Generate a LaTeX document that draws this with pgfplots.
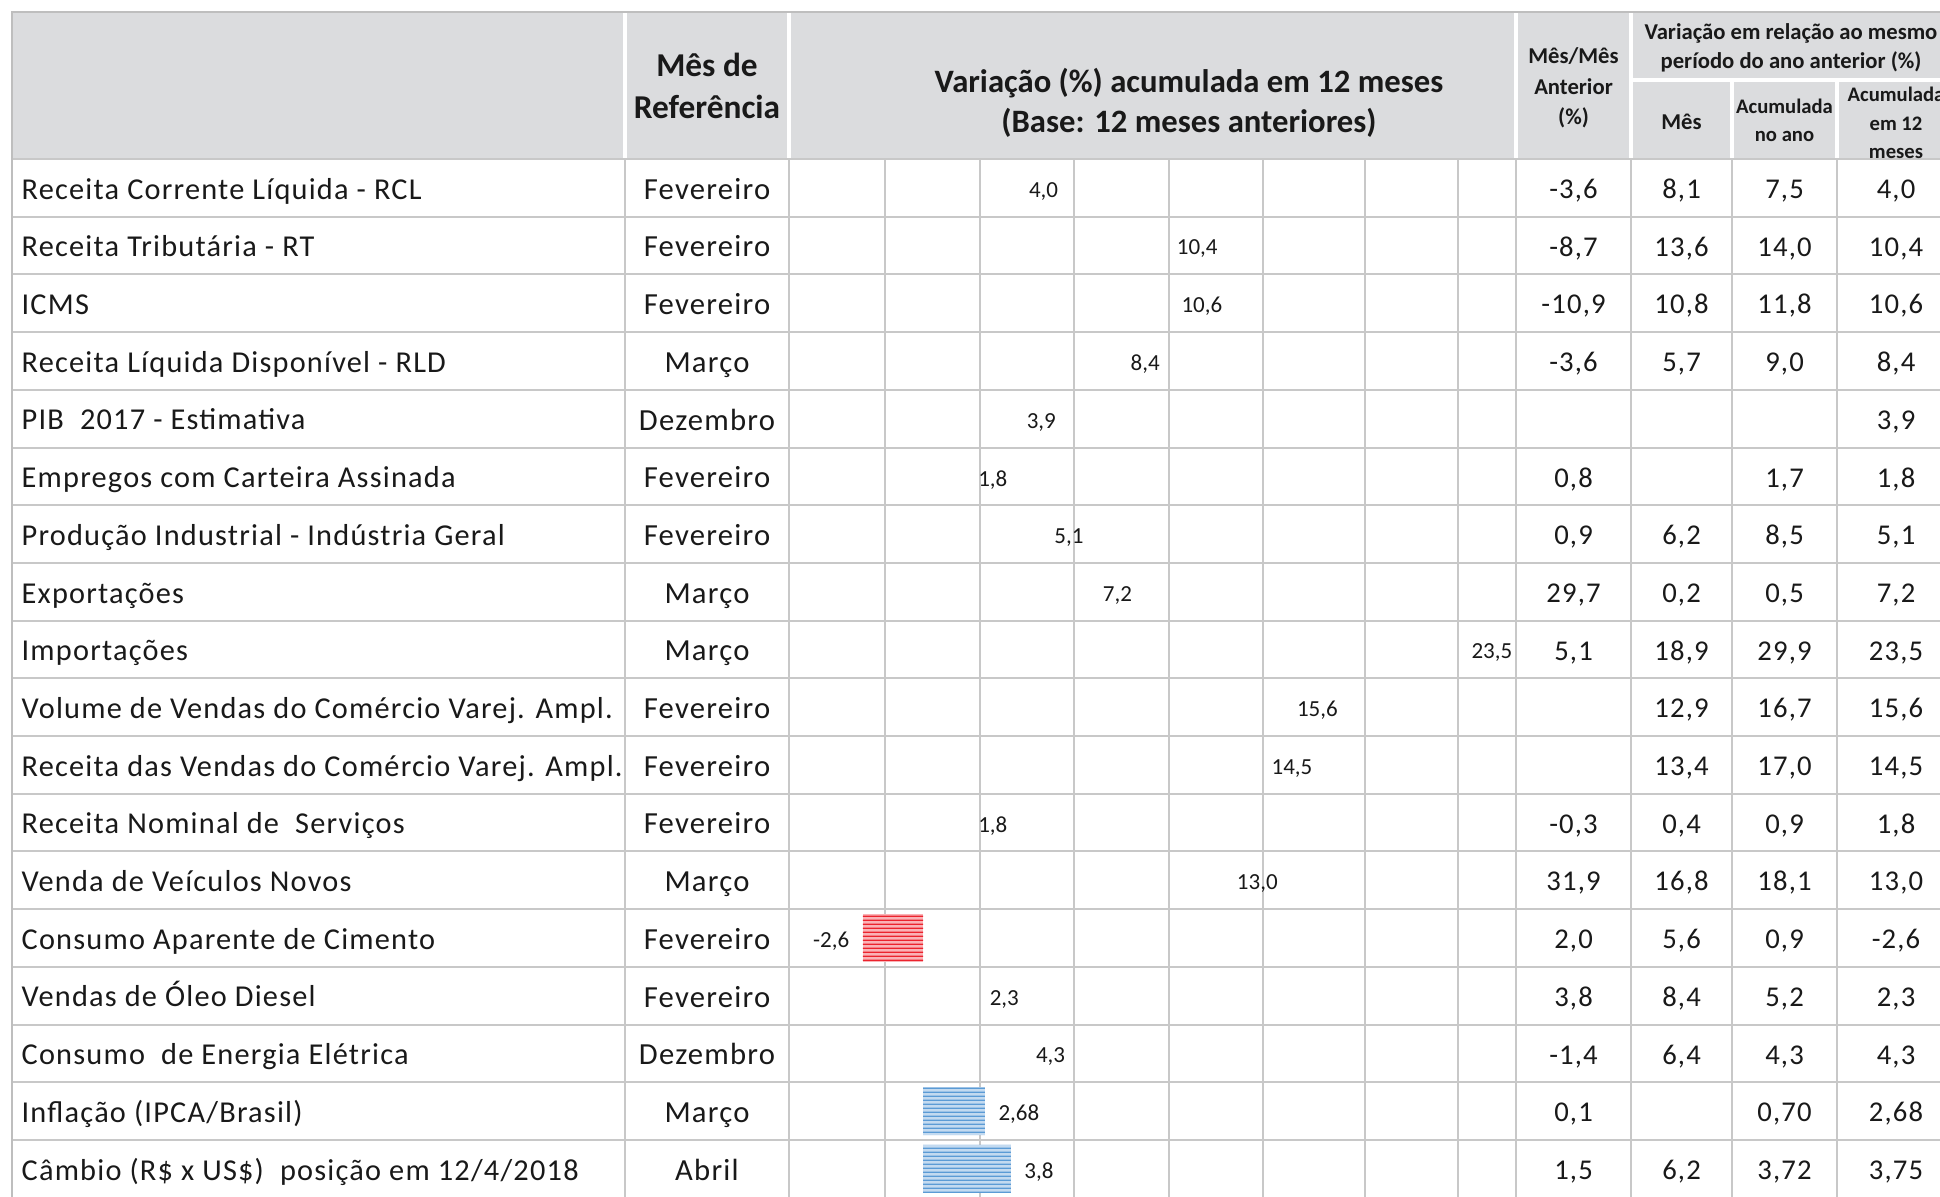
\documentclass[border=0pt]{standalone}
\usepackage{fontspec}
\setmainfont{Carlito}
\usepackage{pgfplots}
\pgfplotsset{compat=1.18}
\usepackage{pgfplotstable}
\usetikzlibrary{patterns}

\definecolor{hdr}{RGB}{219,220,222}
\definecolor{gridc}{RGB}{200,200,200}
\definecolor{bordc}{RGB}{190,190,190}
\definecolor{txt}{RGB}{25,25,25}
\definecolor{redline}{RGB}{235,35,45}
\definecolor{redbg}{RGB}{250,178,182}
\definecolor{blueline}{RGB}{91,155,213}
\definecolor{bluebg}{RGB}{195,218,240}

\pgfdeclarepatternformonly{hstripes}{\pgfpointorigin}{\pgfpoint{700pt}{1.2pt}}{\pgfpoint{700pt}{1.2pt}}{%
  \pgfpathrectangle{\pgfpoint{0pt}{0pt}}{\pgfpoint{700pt}{0.5pt}}\pgfusepath{fill}}

\newfontfamily\bodyfont[LetterSpace=4]{Carlito}
\newfontfamily\chartfont{Carlito}

% chart data: row index, value, label
\pgfplotstableread{
row val lab
0 4.0 4,0
1 10.4 10,4
2 10.6 10,6
3 8.4 8,4
4 3.9 3,9
5 1.8 1,8
6 5.1 5,1
7 7.2 7,2
9 15.6 15,6
10 14.5 14,5
11 1.8 1,8
12 13.0 13,0
14 2.3 2,3
15 4.3 4,3
}\plaindata
\pgfplotstableread{
row val lab
8 23.5 23,5
}\edgedata
\pgfplotstableread{
row val lab
13 -2.6 -2,6
}\negdata
\pgfplotstableread{
row val lab
16 2.68 2,68
17 3.8 3,8
}\bluedata

% text helper: [opts]{x}{y visual centre}{size}{text}
\newcommand\T[5][]{%
  \pgfmathsetmacro\by{#3+1.073*#4}%
  \node[anchor=base,inner sep=0pt,text=txt,#1] at (#2,\by) {\fontsize{#4}{#4}\selectfont #5};%
}
\newcommand\R[7]{%
  \pgfmathsetmacro\yc{159+57.7*(#1+0.5)+1.5}%
  \T[anchor=base west]{21}{\yc}{9.1}{\bodyfont #2}%
  \T{707}{\yc}{9.2}{\bodyfont #3}%
  \T{1573.5}{\yc}{8.6}{\bodyfont #4}%
  \T{1681.5}{\yc}{8.6}{\bodyfont #5}%
  \T{1784.5}{\yc}{8.6}{\bodyfont #6}%
  \T{1896}{\yc}{8.6}{\bodyfont #7}%
}

\begin{document}
\begin{tikzpicture}
\path[use as bounding box] (0pt,0pt) rectangle (582pt,-359.1pt);
\clip (0pt,0pt) rectangle (582pt,-359.1pt);

\begin{scope}[x=0.3pt,y=-0.3pt]
  % header background
  \fill[hdr] (12,12) rectangle (1970,159);
  % white separators in header
  \draw[white,line width=1pt]
    (625,12)--(625,159) (789,12)--(789,159) (1516,12)--(1516,159)
    (1631,12)--(1631,159) (1631,80)--(1970,80)
    (1732,80)--(1732,159) (1837,80)--(1837,159);
  % body grid
  \foreach \k in {0,...,18}
    \draw[gridc,line width=0.6pt] (12,{159+57.7*\k}) -- (1970,{159+57.7*\k});
  \foreach \xx in {625,789,885,980,1074,1169,1263,1365,1458,1516,1631,1732,1837}
    \draw[gridc,line width=0.6pt] (\xx,159) -- (\xx,1210);
  % outer border
  \draw[bordc,line width=0.7pt] (12,1210) -- (12,12) -- (1970,12);
\end{scope}

\begin{axis}[
  at={(236.7pt,-359.28pt)}, anchor=south west,
  scale only axis, width=218.1pt, height=311.58pt,
  xmin=-5.801, xmax=25.671, ymin=-0.5, ymax=17.5, y dir=reverse,
  axis lines=none, xbar, bar width=0.832, bar shift=0pt,
  clip=false,
  point meta=explicit symbolic,
  nodes near coords,
  nodes near coords style={font=\chartfont\fontsize{6.9}{8}\selectfont, text=txt, inner sep=0pt, yshift=-1pt},
]
\addplot[draw=none, fill=none, nodes near coords style={anchor=west, xshift=3.9pt}]
  table[x=val,y=row,meta=lab]{\plaindata};
\addplot[draw=none, fill=none, nodes near coords style={anchor=west, xshift=1.5pt}]
  table[x=val,y=row,meta=lab]{\edgedata};
\addplot[draw=none, fill=redbg,
  postaction={pattern=hstripes, pattern color=redline},
  nodes near coords style={anchor=east, xshift=-3.9pt}]
  table[x=val,y=row,meta=lab]{\negdata};
\addplot[draw=none, fill=bluebg,
  postaction={pattern=hstripes, pattern color=blueline},
  nodes near coords style={anchor=west, xshift=3.9pt}]
  table[x=val,y=row,meta=lab]{\bluedata};
\end{axis}

\begin{scope}[x=0.3pt,y=-0.3pt]
  % header texts
  \T{707}{66}{10}{\bfseries Mês de}
  \T{707}{108}{10}{\bfseries Referência}
  \T{1189}{82}{9.8}{\bfseries Variação (\%) acumulada em 12 meses}
  \T{1189}{122}{9.8}{\bfseries (Base: 12 meses anteriores)}
  \T{1573.5}{56}{6.8}{\bfseries Mês/Mês}
  \T{1573.5}{87}{6.8}{\bfseries Anterior}
  \T{1573.5}{117}{6.8}{\bfseries (\%)}
  \T{1791}{32}{6.8}{\bfseries Variação em relação ao mesmo}
  \T{1791}{61}{6.8}{\bfseries período do ano anterior (\%)}
  \T{1681.5}{122}{6.8}{\bfseries Mês}
  \T{1784.5}{107}{6.2}{\bfseries Acumulada}
  \T{1784.5}{135}{6.2}{\bfseries no ano}
  \T{1896}{95}{6.2}{\bfseries Acumulada}
  \T{1896}{124}{6.2}{\bfseries em 12}
  \T{1896}{152}{6.2}{\bfseries meses}
  % body rows
  \R{0}{Receita Corrente Líquida - RCL}{Fevereiro}{-3,6}{8,1}{7,5}{4,0}
  \R{1}{Receita Tributária - RT}{Fevereiro}{-8,7}{13,6}{14,0}{10,4}
  \R{2}{ICMS}{Fevereiro}{-10,9}{10,8}{11,8}{10,6}
  \R{3}{Receita Líquida Disponível - RLD}{Março}{-3,6}{5,7}{9,0}{8,4}
  \R{4}{PIB\ \ 2017 - Estimativa}{Dezembro}{}{}{}{3,9}
  \R{5}{Empregos com Carteira Assinada}{Fevereiro}{0,8}{}{1,7}{1,8}
  \R{6}{Produção Industrial - Indústria Geral}{Fevereiro}{0,9}{6,2}{8,5}{5,1}
  \R{7}{Exportações}{Março}{29,7}{0,2}{0,5}{7,2}
  \R{8}{Importações}{Março}{5,1}{18,9}{29,9}{23,5}
  \R{9}{Volume de Vendas do Comércio Varej. Ampl.}{Fevereiro}{}{12,9}{16,7}{15,6}
  \R{10}{Receita das Vendas do Comércio Varej. Ampl.}{Fevereiro}{}{13,4}{17,0}{14,5}
  \R{11}{Receita Nominal de\ \ Serviços}{Fevereiro}{-0,3}{0,4}{0,9}{1,8}
  \R{12}{Venda de Veículos Novos}{Março}{31,9}{16,8}{18,1}{13,0}
  \R{13}{Consumo Aparente de Cimento}{Fevereiro}{2,0}{5,6}{0,9}{-2,6}
  \R{14}{Vendas de Óleo Diesel}{Fevereiro}{3,8}{8,4}{5,2}{2,3}
  \R{15}{Consumo\ \ de Energia Elétrica}{Dezembro}{-1,4}{6,4}{4,3}{4,3}
  \R{16}{Inflação (IPCA/Brasil)}{Março}{0,1}{}{0,70}{2,68}
  \R{17}{Câmbio (R\$ x US\$)\ \ posição em 12/4/2018}{Abril}{1,5}{6,2}{3,72}{3,75}
\end{scope}
\end{tikzpicture}
\end{document}
